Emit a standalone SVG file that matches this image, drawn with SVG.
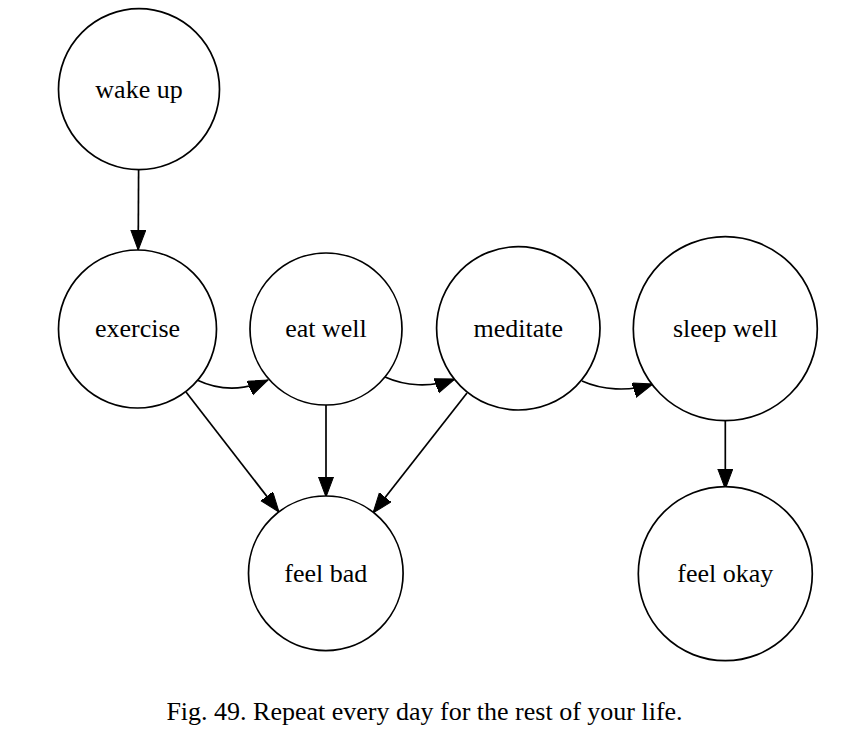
<svg xmlns="http://www.w3.org/2000/svg" width="851" height="737" viewBox="0 0 851 737">
<style>
.node circle{fill:#fff;stroke:#000;stroke-width:1.7}
.node text{font-family:"Liberation Serif","Times New Roman",serif;font-size:26px;text-anchor:middle;fill:#000}
.edge{fill:none;stroke:#000;stroke-width:1.7}
.caption{font-family:"Liberation Serif","Times New Roman",serif;font-size:26px;text-anchor:middle;fill:#000}
</style>
<defs>
<marker id="arr" markerUnits="userSpaceOnUse" markerWidth="22" markerHeight="16" refX="20" refY="7.5" orient="auto" viewBox="0 0 22 16">
<path d="M0,0 L20,7.5 L0,15 z" fill="#000" stroke="#000" stroke-width="1"/>
</marker>
</defs>
<rect width="851" height="737" fill="#fff"/>
<g id="connectors">
<path class="edge" marker-end="url(#arr)" d="M138.6,170 L138.2,250"/>
<path class="edge" marker-end="url(#arr)" d="M197,380 C218,390 243,391 268,380"/>
<path class="edge" marker-end="url(#arr)" d="M385,377 C405,386 430,388 455,379"/>
<path class="edge" marker-end="url(#arr)" d="M582,381 C602,390 628,392 653,384"/>
<path class="edge" marker-end="url(#arr)" d="M186,392 L279,512"/>
<path class="edge" marker-end="url(#arr)" d="M326,405 L326,497"/>
<path class="edge" marker-end="url(#arr)" d="M467,393 L373,513"/>
<path class="edge" marker-end="url(#arr)" d="M725.3,421 L725.3,489"/>
</g>
<g id="wake_up" class="node"><circle cx="139" cy="89.2" r="80.5"/><text x="139" y="97.5">wake up</text></g>
<g id="exercise" class="node"><circle cx="137.5" cy="329" r="79"/><text x="137.5" y="337">exercise</text></g>
<g id="eat_well" class="node"><circle cx="326" cy="329" r="76"/><text x="326" y="337">eat well</text></g>
<g id="meditate" class="node"><circle cx="518.3" cy="328.3" r="81.7"/><text x="518.3" y="337">meditate</text></g>
<g id="sleep_well" class="node"><circle cx="725.3" cy="328.7" r="92"/><text x="725.3" y="337">sleep well</text></g>
<g id="feel_bad" class="node"><circle cx="325.8" cy="573.3" r="77.3"/><text x="325.8" y="581.5">feel bad</text></g>
<g id="feel_okay" class="node"><circle cx="725.3" cy="573.7" r="87"/><text x="725.3" y="581.5">feel okay</text></g>
<text class="caption" x="424.5" y="720">Fig. 49. Repeat every day for the rest of your life.</text>
</svg>
